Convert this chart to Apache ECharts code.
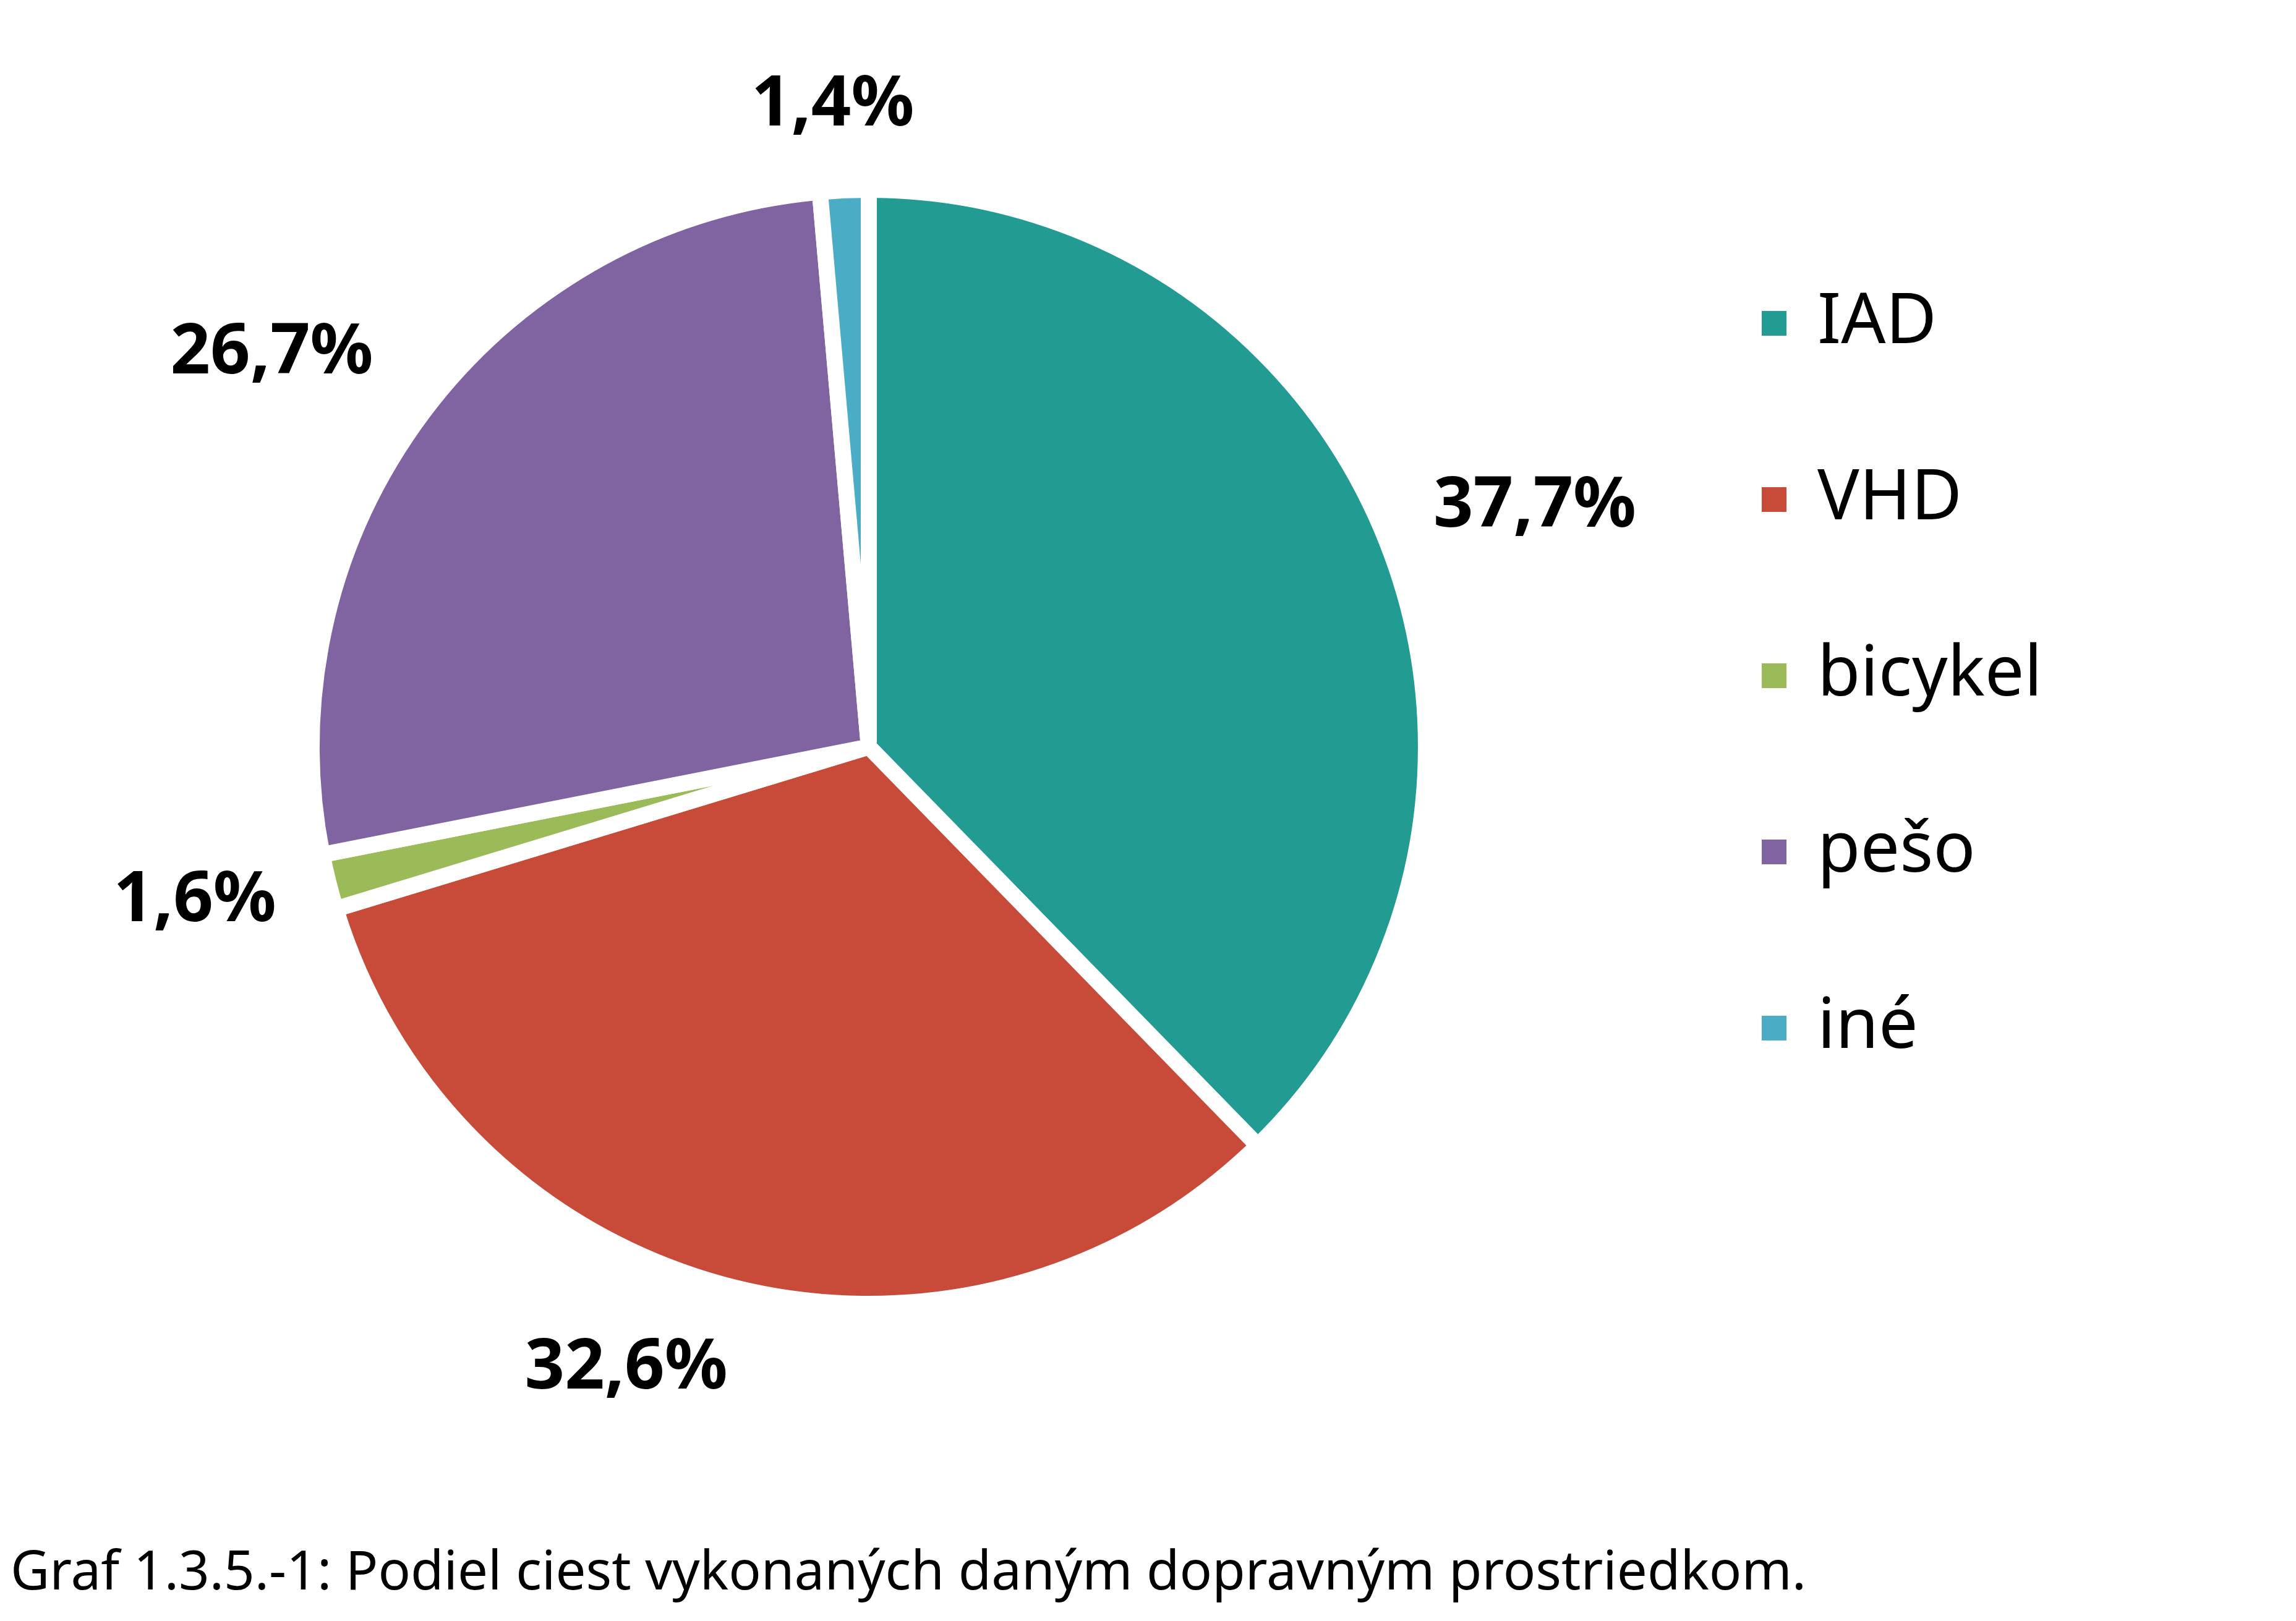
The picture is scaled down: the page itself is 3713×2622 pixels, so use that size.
<!DOCTYPE html>
<html>
<head>
<meta charset="utf-8">
<script src="https://cdn.jsdelivr.net/npm/echarts@6/dist/echarts.min.js"></script>
<style>
html,body{margin:0;padding:0;background:#fff;}
#c{width:3713px;height:2622px;}
</style>
</head>
<body>
<div id="c"></div>
<script>
const categories = ['IAD', 'VHD', 'bicykel', 'pešo', 'iné'];
const values = [37.7, 32.6, 1.6, 26.7, 1.4];
const colors = ['#229C92', '#C84B39', '#9BBB59', '#8064A2', '#4BACC6'];
const captionText = 'Graf 1.3.5.-1: Podiel ciest vykonaných daným dopravným prostriedkom.';

const FONT = '"Noto Sans", sans-serif';
const chart = echarts.init(document.getElementById('c'), null, {renderer: 'canvas'});

const data = categories.map((name, i) => ({
  name: name,
  value: values[i],
  itemStyle: {color: colors[i]}
}));

chart.setOption({
  animation: false,
  backgroundColor: '#ffffff',
  title: {
    text: captionText,
    left: 12,
    top: 2498,
    textStyle: {fontFamily: FONT, fontSize: 87, fontWeight: 'normal', color: '#000'}
  },
  legend: {
    orient: 'vertical',
    left: 2844,
    top: 458,
    icon: 'rect',
    itemWidth: 40,
    itemHeight: 40,
    itemGap: 165,
    itemStyle: {borderWidth: 0},
    textStyle: {fontFamily: FONT, fontSize: 113, color: '#000', lineHeight: 120, padding: [0, 0, 0, 45]},
    data: categories
  },
  series: [{
    type: 'pie',
    center: [1405, 1208],
    radius: 901,
    startAngle: 90,
    clockwise: true,
    avoidLabelOverlap: false,
    itemStyle: {borderColor: '#ffffff', borderWidth: 26},
    emphasis: {disabled: true},
    label: {
      show: true,
      position: 'outside',
      formatter: p => p.value.toFixed(1).replace('.', ',') + '%',
      fontFamily: FONT,
      fontSize: 113,
      fontWeight: 'bold',
      color: '#000',
      distanceToLabelLine: -42
    },
    labelLine: {show: false, length: 130, length2: 0},
    labelLayout: function (p) {
      if (p.dataIndex === 4) return {align: 'center', dx: -55, dy: -7};
      if (p.dataIndex === 3) return {dx: -19, dy: -17};
      if (p.dataIndex === 1) return {dx: -14, dy: 7};
      return {};
    },
    data: data
  }]
});
</script>
</body>
</html>
